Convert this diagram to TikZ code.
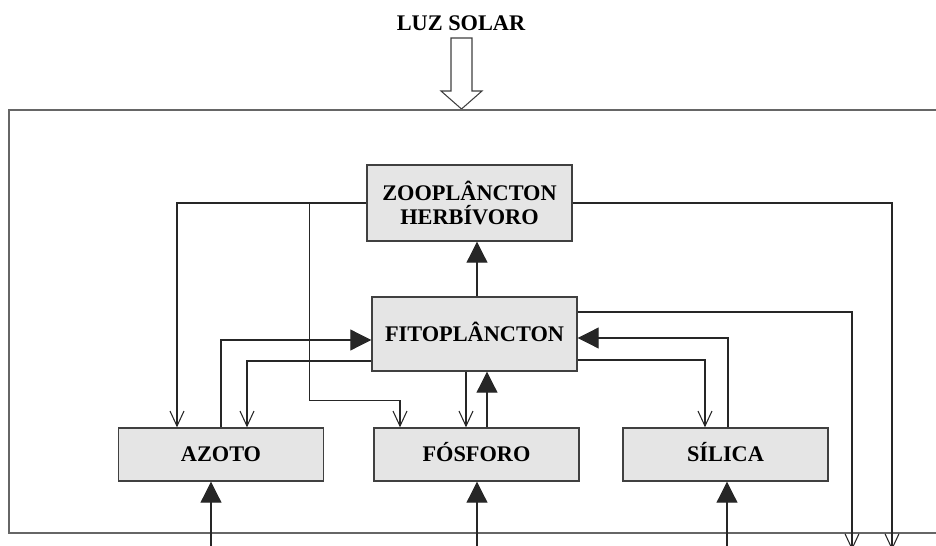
\documentclass[tikz,border=0pt]{standalone}
\usepackage{fontspec}
\setmainfont{Liberation Serif}
\usetikzlibrary{arrows.meta,calc}

\begin{document}
\begin{tikzpicture}[
  font=\fontsize{12.7}{13.6}\selectfont\bfseries,
  box/.style={draw=black!75,fill=black!10,line width=0.8pt,minimum width=4.1cm,
    minimum height=1.06cm,align=center,inner sep=0pt},
  single/.style={box,text height=11pt,text depth=2.6pt},
  flow/.style={-{Straight Barb[length=3mm,width=2.8mm]},black!85,line width=0.6pt},
  feed/.style={-{Triangle[length=4.2mm,width=4.2mm]},black!85,line width=0.6pt},
  frame/.style={black!60,line width=1.2pt}
]
  \useasboundingbox (0,0) rectangle (18.72,10.9);

  \node (sun) at (9.22,10.43) {LUZ SOLAR};
  \draw[black!75,fill=white,line width=0.6pt] (9.02,10.14) -- (9.44,10.14)
    -- (9.44,9.08) -- (9.64,9.08) -- (9.23,8.72) -- (8.82,9.08)
    -- (9.02,9.08) -- cycle;
  \draw[frame] (18.8,8.70) -- (0.18,8.70) -- (0.18,0.24) -- (18.8,0.24);

  \node[box,minimum height=1.52cm] (zoo) at (9.39,6.84) {ZOOPLÂNCTON\\HERBÍVORO};
  \node[single,minimum height=1.48cm] (fito) at (9.49,4.22) {FITOPLÂNCTON};
  \node[single] (az) at (4.42,1.81) {AZOTO};
  \node[single] (fos) at (9.53,1.81) {FÓSFORO};
  \node[single] (sil) at (14.51,1.81) {SÍLICA};

  \coordinate (outF) at (17.04,-0.1);
  \coordinate (outZ) at (17.84,-0.1);
  \coordinate (inA) at (4.22,-0.1);
  \coordinate (inP) at (9.54,-0.1);
  \coordinate (inS) at (14.54,-0.1);
  \coordinate (fz) at ($(fito.north)+(0.05,0)$);
  \coordinate (fp) at ($(fito.south)+(-0.17,0)$);
  \coordinate (pf) at ($(fos.north)+(0.21,0)$);

  % grazing
  \draw[feed] (fz) -- (fz |- zoo.south);
  \draw[flow] (zoo.west) -| ($(az.north)+(-0.88,0)$);
  \draw[flow] ($(zoo.west)+(-1.14,0)$) |- ($(fos.north)+(-1.53,0.54)$)
    -- ($(fos.north)+(-1.53,0)$);
  \draw[flow] (zoo.east) -| (outZ);
  \draw[flow] ($(fito.east)+(0,0.44)$) -| (outF);

  % nutrients
  \draw[feed] (az.north) |- ($(fito.west)+(0,-0.12)$);
  \draw[flow] ($(fito.west)+(0,-0.54)$) -| ($(az.north)+(0.52,0)$);
  \draw[flow] (fp) -- (fp |- fos.north);
  \draw[feed] (pf) -- (pf |- fito.south);
  \draw[feed] ($(sil.north)+(0.05,0)$) |- ($(fito.east)+(0,-0.08)$);
  \draw[flow] ($(fito.east)+(0,-0.52)$) -| ($(sil.north)+(-0.41,0)$);

  \foreach \src/\dst in {inA/az,inP/fos,inS/sil}
    \draw[feed] (\src) -- (\src |- \dst.south);
\end{tikzpicture}
\end{document}
